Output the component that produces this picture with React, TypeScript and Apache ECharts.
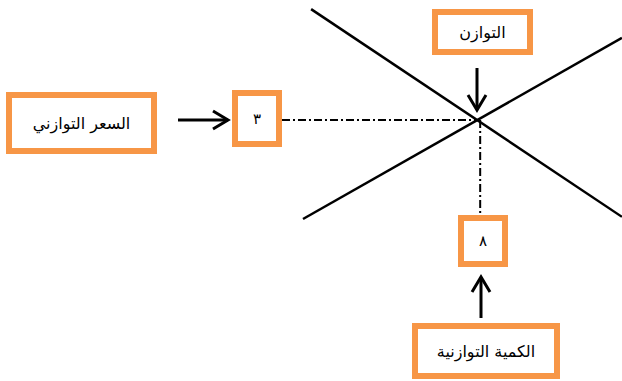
import React, { useEffect, useRef } from "react";
import * as echarts from "echarts";

// Quantity (x) / price (y) data in chart units
const demandLine: number[][] = [
  [0.37, 6.08],
  [14.58, 0.31],
];
const supplyLine: number[][] = [
  [0, 0.25],
  [14.58, 5.28],
];
const equilibriumQty = 8;
const equilibriumPrice = 3;
const priceGuideStartQty = -0.96;
const qtyGuideEndPrice = 0.36;

const labels = {
  price: "السعر التوازني",
  equilibrium: "التوازن",
  quantity: "الكمية التوازنية",
  priceValue: "٣",
  qtyValue: "٨",
};

const ORANGE = "#F79646";
const FONT = "DejaVu Sans, sans-serif";

function box(x: number, y: number, w: number, h: number, text: string, size: number) {
  return [
    {
      type: "rect",
      shape: { x, y, width: w, height: h },
      style: { fill: "#ffffff", stroke: ORANGE, lineWidth: 6 },
      z: 10,
    },
    {
      type: "text",
      x: x + w / 2,
      y: y + h / 2,
      style: {
        text,
        textAlign: "center",
        textVerticalAlign: "middle",
        fontSize: size,
        fontFamily: FONT,
        fill: "#000000",
      },
      z: 11,
    },
  ];
}

function arrow(x1: number, y1: number, x2: number, y2: number, head: number[][]) {
  return [
    {
      type: "line",
      shape: { x1, y1, x2, y2 },
      style: { stroke: "#000", lineWidth: 3 },
      z: 10,
    },
    {
      type: "polyline",
      shape: { points: head },
      style: { stroke: "#000", lineWidth: 3, fill: "none" },
      z: 10,
    },
  ];
}

export default function App() {
  const ref = useRef<HTMLDivElement>(null);
  useEffect(() => {
    if (!ref.current) return;
    const chart = echarts.init(ref.current, undefined, { renderer: "svg" });
    const dashDot = { color: "#000", width: 2, type: [8, 3, 2, 3] as number[] };
    chart.setOption({
      animation: false,
      backgroundColor: "#ffffff",
      grid: { left: 0, right: 0, top: 0, bottom: 0 },
      xAxis: { type: "value", min: -13.851, max: 14.583, show: false },
      yAxis: { type: "value", min: -4.25, max: 6.333, show: false },
      series: [
        {
          type: "line",
          name: "demand",
          data: demandLine,
          symbol: "none",
          lineStyle: { color: "#000", width: 2.5 },
          silent: true,
        },
        {
          type: "line",
          name: "supply",
          data: supplyLine,
          symbol: "none",
          lineStyle: { color: "#000", width: 2.5 },
          silent: true,
        },
        {
          type: "line",
          name: "priceGuide",
          data: [
            [priceGuideStartQty, equilibriumPrice],
            [equilibriumQty, equilibriumPrice],
          ],
          symbol: "none",
          lineStyle: dashDot,
          silent: true,
        },
        {
          type: "line",
          name: "qtyGuide",
          data: [
            [equilibriumQty + 0.1, equilibriumPrice],
            [equilibriumQty + 0.1, qtyGuideEndPrice],
          ],
          symbol: "none",
          lineStyle: dashDot,
          silent: true,
        },
      ],
      graphic: [
        ...box(9, 95, 145, 56, labels.price, 16),
        ...box(235, 93, 44, 51, labels.priceValue, 15),
        ...box(435, 12, 95, 40, labels.equilibrium, 16),
        ...box(461, 218, 44, 46, labels.qtyValue, 15),
        ...box(415, 326, 142, 50, labels.quantity, 16),
        ...arrow(178, 120, 228, 120, [
          [213, 111],
          [228, 120],
          [213, 129],
        ]),
        ...arrow(477, 68, 477, 110, [
          [468, 95],
          [477, 110],
          [486, 95],
        ]),
        ...arrow(481, 318, 481, 277, [
          [472, 292],
          [481, 277],
          [490, 292],
        ]),
      ],
    });
    return () => chart.dispose();
  }, []);
  return (
    <div
      ref={ref}
      style={{ position: "fixed", left: 0, top: 0, width: 622, height: 381 }}
    />
  );
}
